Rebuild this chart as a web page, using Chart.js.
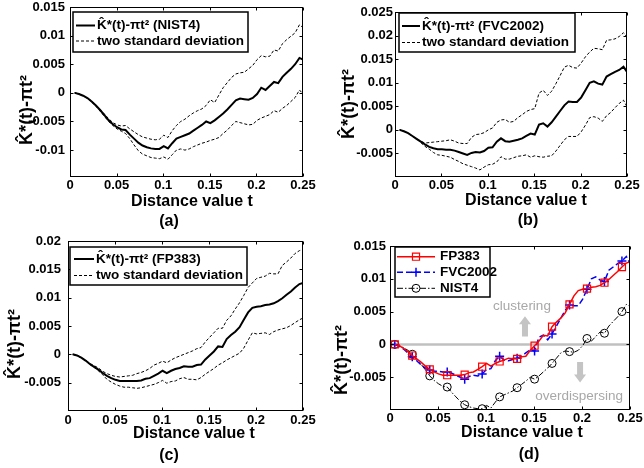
<!DOCTYPE html>
<html>
<head>
<meta charset="utf-8">
<script src="https://cdn.jsdelivr.net/npm/chart.js@4.4.0/dist/chart.umd.min.js"></script>
<style>
  body { margin: 0; background: #fff; }
  #wrap { position: relative; width: 644px; height: 468px; }
  canvas { position: absolute; }
</style>
</head>
<body>
<div id="wrap">
  <canvas id="pa" width="322" height="234" style="left:0;top:0"></canvas>
  <canvas id="pb" width="322" height="234" style="left:322px;top:0"></canvas>
  <canvas id="pc" width="322" height="234" style="left:0;top:234px"></canvas>
  <canvas id="pd" width="322" height="234" style="left:322px;top:234px"></canvas>
</div>
<script>
// distance values t (shared by every curve)
const T = [
  0.005, 0.0096, 0.0141, 0.0187, 0.0232, 0.0278, 0.0323, 0.0369, 0.0414, 0.046, 0.0505,
  0.0551, 0.0596, 0.0642, 0.0687, 0.0733, 0.0778, 0.0824, 0.0869, 0.0915, 0.096, 0.1006,
  0.1051, 0.1097, 0.1142, 0.1188, 0.1233, 0.1279, 0.1324, 0.137, 0.1415, 0.1461, 0.1506,
  0.1552, 0.1597, 0.1643, 0.1688, 0.1734, 0.1779, 0.1825, 0.187, 0.1916, 0.1961, 0.2007,
  0.2052, 0.2098, 0.2143, 0.2189, 0.2234, 0.228, 0.2325, 0.2371, 0.2416, 0.2462, 0.25
];

// NIST4
const nistMean = [
  0, -0.0002, -0.0005, -0.0009, -0.0015, -0.0022, -0.0030, -0.0039, -0.0048, -0.0055, -0.0060,
  -0.0064, -0.0065, -0.0073, -0.0080, -0.0087, -0.0092, -0.0095, -0.0097, -0.0098, -0.0098, -0.0093,
  -0.0097, -0.0088, -0.0080, -0.0077, -0.0074, -0.0071, -0.0066, -0.0061, -0.0056, -0.0050, -0.0053,
  -0.0048, -0.0042, -0.0036, -0.0029, -0.0021, -0.0013, -0.0010, -0.0011, -0.0012, -0.0009, -0.0002,
  0.0009, 0.0005, 0.0012, 0.0019, 0.0017, 0.0028, 0.0035, 0.0042, 0.0050, 0.0061, 0.0058
];
const nistUpper = [
  0, -0.0002, -0.0005, -0.0009, -0.0014, -0.0021, -0.0029, -0.0037, -0.0045, -0.0052, -0.0056,
  -0.0058, -0.0057, -0.0063, -0.0068, -0.0073, -0.0077, -0.0079, -0.0081, -0.0082, -0.0081, -0.0074,
  -0.0078, -0.0066, -0.0057, -0.0050, -0.0046, -0.0040, -0.0035, -0.0031, -0.0028, -0.0022, -0.0012,
  -0.0017, -0.0004, 0.0009, 0.0018, 0.0027, 0.0033, 0.0035, 0.0036, 0.0042, 0.0048, 0.0058,
  0.0065, 0.0063, 0.0064, 0.0075, 0.0073, 0.0086, 0.0093, 0.0099, 0.0105, 0.0119, 0.0114
];
const nistLower = [
  0, -0.0002, -0.0005, -0.0010, -0.0016, -0.0023, -0.0032, -0.0041, -0.0050, -0.0057, -0.0063,
  -0.0067, -0.0071, -0.0080, -0.0091, -0.0101, -0.0107, -0.0110, -0.0113, -0.0114, -0.0115, -0.0112,
  -0.0116, -0.0108, -0.0100, -0.0098, -0.0100, -0.0098, -0.0094, -0.0091, -0.0088, -0.0086, -0.0083,
  -0.0081, -0.0078, -0.0071, -0.0065, -0.0057, -0.0050, -0.0052, -0.0054, -0.0056, -0.0055, -0.0048,
  -0.0044, -0.0041, -0.0038, -0.0031, -0.0034, -0.0027, -0.0022, -0.0015, -0.0008, 0.0005, -0.0002
];

// FVC2002
const fvcMean = [
  0, -0.0003, -0.0007, -0.0013, -0.0019, -0.0025, -0.0031, -0.0036, -0.0039, -0.0041, -0.0041,
  -0.0042, -0.0042, -0.0044, -0.0047, -0.0050, -0.0053, -0.0049, -0.0047, -0.0048, -0.0045, -0.0038,
  -0.0037, -0.0025, -0.0018, -0.0024, -0.0025, -0.0023, -0.0021, -0.0018, -0.0013, -0.0008, -0.0010,
  0.0011, 0.0014, 0.0007, 0.0016, 0.0028, 0.0040, 0.0052, 0.0060, 0.0059, 0.0059, 0.0069,
  0.0084, 0.0100, 0.0103, 0.0098, 0.0096, 0.0113, 0.0118, 0.0123, 0.0127, 0.0134, 0.0123
];
const fvcUpper = [
  0, -0.0003, -0.0007, -0.0013, -0.0019, -0.0024, -0.0028, -0.0027, -0.0026, -0.0025, -0.0024,
  -0.0023, -0.0021, -0.0024, -0.0028, -0.0029, -0.0029, -0.0016, -0.0010, -0.0009, -0.0006, 0.0000,
  0.0004, 0.0016, 0.0021, 0.0022, 0.0016, 0.0018, 0.0026, 0.0032, 0.0039, 0.0043, 0.0045,
  0.0078, 0.0084, 0.0073, 0.0082, 0.0098, 0.0115, 0.0133, 0.0137, 0.0132, 0.0131, 0.0142,
  0.0155, 0.0165, 0.0173, 0.0172, 0.0170, 0.0190, 0.0191, 0.0193, 0.0198, 0.0206, 0.0197
];
const fvcLower = [
  0, -0.0003, -0.0007, -0.0013, -0.0019, -0.0027, -0.0035, -0.0041, -0.0048, -0.0053, -0.0054,
  -0.0056, -0.0058, -0.0063, -0.0067, -0.0072, -0.0075, -0.0078, -0.0081, -0.0085, -0.0079, -0.0074,
  -0.0073, -0.0068, -0.0057, -0.0062, -0.0062, -0.0059, -0.0056, -0.0055, -0.0053, -0.0058, -0.0055,
  -0.0057, -0.0058, -0.0056, -0.0055, -0.0045, -0.0033, -0.0021, -0.0014, -0.0014, -0.0014, -0.0004,
  0.0010, 0.0026, 0.0028, 0.0025, 0.0018, 0.0030, 0.0037, 0.0047, 0.0056, 0.0063, 0.0049
];

// FP383
const fpMean = [
  0, -0.0002, -0.0006, -0.0011, -0.0017, -0.0022, -0.0027, -0.0033, -0.0038, -0.0042, -0.0045,
  -0.0047, -0.0047, -0.0047, -0.0047, -0.0047, -0.0046, -0.0043, -0.0042, -0.0038, -0.0034, -0.0029,
  -0.0033, -0.0029, -0.0026, -0.0024, -0.0021, -0.0022, -0.0022, -0.0019, -0.0018, -0.0009, -0.0002,
  0.0005, 0.0014, 0.0013, 0.0027, 0.0034, 0.0040, 0.0048, 0.0061, 0.0074, 0.0082, 0.0084,
  0.0085, 0.0087, 0.0088, 0.0090, 0.0094, 0.0099, 0.0105, 0.0111, 0.0118, 0.0124, 0.0126
];
const fpUpper = [
  0, -0.0002, -0.0006, -0.0010, -0.0016, -0.0020, -0.0024, -0.0030, -0.0034, -0.0037, -0.0039,
  -0.0040, -0.0039, -0.0038, -0.0037, -0.0034, -0.0032, -0.0029, -0.0025, -0.0019, -0.0016, -0.0012,
  -0.0015, -0.0010, -0.0006, -0.0003, 0.0000, 0.0003, 0.0006, 0.0010, 0.0012, 0.0022, 0.0030,
  0.0038, 0.0046, 0.0046, 0.0060, 0.0068, 0.0080, 0.0091, 0.0104, 0.0118, 0.0126, 0.0134,
  0.0136, 0.0138, 0.0143, 0.0142, 0.0142, 0.0157, 0.0163, 0.0170, 0.0178, 0.0183, 0.0185
];
const fpLower = [
  0, -0.0002, -0.0006, -0.0011, -0.0018, -0.0023, -0.0029, -0.0036, -0.0044, -0.0049, -0.0053,
  -0.0056, -0.0058, -0.0058, -0.0059, -0.0060, -0.0059, -0.0057, -0.0055, -0.0053, -0.0050, -0.0046,
  -0.0051, -0.0048, -0.0047, -0.0043, -0.0041, -0.0044, -0.0044, -0.0045, -0.0041, -0.0035, -0.0030,
  -0.0025, -0.0019, -0.0015, -0.0010, -0.0006, -0.0002, 0.0002, 0.0011, 0.0025, 0.0038, 0.0036,
  0.0037, 0.0038, 0.0035, 0.0040, 0.0043, 0.0045, 0.0047, 0.0051, 0.0056, 0.0061, 0.0064
];

// axes
const xTicks = [0, 0.05, 0.1, 0.15, 0.2, 0.25];
const yTicksA = [-0.01, -0.005, 0, 0.005, 0.01, 0.015];
const yTicksB = [-0.005, 0, 0.005, 0.01, 0.015, 0.02, 0.025];
const yTicksC = [-0.005, 0, 0.005, 0.01, 0.015, 0.02];
const yTicksD = [-0.005, 0, 0.005, 0.01, 0.015];
const zeroT = [0, 0.25];
const zeroV = [0, 0];

const yLabel = 'K\u0302*(t)-\u03c0t\u00b2';
const FONT = '"Liberation Sans", Arial, Helvetica, sans-serif';
Chart.defaults.font.family = FONT;
Chart.defaults.color = '#000';

const pts = (xs, ys) => xs.map((x, i) => ({ x: x, y: ys[i] }));
const fmt = v => String(Math.round(v * 1000) / 1000);

function framePlugin(spec) {
  return {
    id: 'frame',
    afterDraw(chart) {
      const ctx = chart.ctx, a = chart.chartArea;
      const xs = chart.scales.x, ys = chart.scales.y;
      ctx.save();
      ctx.setLineDash([]);
      ctx.strokeStyle = '#000';
      ctx.lineWidth = 1;
      const l = Math.round(a.left) + 0.5, t = Math.round(a.top) + 0.5;
      const r = Math.round(a.right) - 0.5, b = Math.round(a.bottom) - 0.5;
      ctx.strokeRect(l, t, r - l, b - t);
      ctx.beginPath();
      xs.ticks.forEach(tk => {
        const x = Math.round(xs.getPixelForValue(tk.value)) + 0.5;
        ctx.moveTo(x, b); ctx.lineTo(x, b - 3);
        ctx.moveTo(x, t); ctx.lineTo(x, t + 3);
      });
      ys.ticks.forEach(tk => {
        const y = Math.round(ys.getPixelForValue(tk.value)) + 0.5;
        ctx.moveTo(l, y); ctx.lineTo(l + 3, y);
        ctx.moveTo(r, y); ctx.lineTo(r - 3, y);
      });
      ctx.stroke();

      // notes (arrows + gray words)
      (spec.notes || []).forEach(n => {
        ctx.fillStyle = n.color;
        if (n.text) {
          ctx.font = '13.5px ' + FONT;
          ctx.textAlign = 'center';
          ctx.textBaseline = 'middle';
          ctx.fillText(n.text, xs.getPixelForValue(n.t), ys.getPixelForValue(n.v));
        } else {
          const x = xs.getPixelForValue(n.t);
          const tip = ys.getPixelForValue(n.tip), tail = ys.getPixelForValue(n.tail);
          const d = tail > tip ? 1 : -1;
          ctx.beginPath();
          ctx.moveTo(x, tip);
          ctx.lineTo(x + 6, tip + d * 8);
          ctx.lineTo(x + 3, tip + d * 8);
          ctx.lineTo(x + 3, tail);
          ctx.lineTo(x - 3, tail);
          ctx.lineTo(x - 3, tip + d * 8);
          ctx.lineTo(x - 6, tip + d * 8);
          ctx.closePath();
          ctx.fill();
        }
      });

      // legend box
      const lg = spec.legend;
      ctx.fillStyle = '#fff';
      ctx.fillRect(lg.box[0], lg.box[1], lg.box[2] - lg.box[0], lg.box[3] - lg.box[1]);
      ctx.strokeStyle = '#000';
      ctx.lineWidth = 1.5;
      ctx.strokeRect(lg.box[0], lg.box[1], lg.box[2] - lg.box[0], lg.box[3] - lg.box[1]);
      lg.rows.forEach(row => {
        const ds = chart.data.datasets[row.ds];
        ctx.strokeStyle = ds.borderColor;
        ctx.lineWidth = ds.borderWidth;
        ctx.setLineDash(ds.borderDash || []);
        ctx.beginPath();
        ctx.moveTo(lg.sample[0], row.y);
        ctx.lineTo(lg.sample[1], row.y);
        ctx.stroke();
        ctx.setLineDash([]);
        if (row.marker) {
          ctx.strokeStyle = ds.pointBorderColor;
          ctx.fillStyle = 'rgba(0,0,0,0)';
          ctx.lineWidth = ds.pointBorderWidth;
          Chart.helpers.drawPoint(ctx, { pointStyle: ds.pointStyle, radius: row.marker, borderWidth: ds.pointBorderWidth, rotation: 0 },
            (lg.sample[0] + lg.sample[1]) / 2, row.y);
        }
        ctx.fillStyle = '#000';
        ctx.font = 'bold 13.5px ' + FONT;
        ctx.textAlign = 'left';
        ctx.textBaseline = 'middle';
        ctx.fillText(row.text, lg.textX, row.y);
      });

      // axis titles and caption
      ctx.fillStyle = '#000';
      ctx.textAlign = 'center';
      ctx.textBaseline = 'middle';
      ctx.font = 'bold 16px ' + FONT;
      ctx.fillText('Distance value t', spec.xTitle[0], spec.xTitle[1]);
      ctx.fillText(spec.caption[2], spec.caption[0], spec.caption[1]);
      ctx.save();
      ctx.translate(spec.yTitle[0], spec.yTitle[1]);
      ctx.rotate(-Math.PI / 2);
      ctx.font = 'bold 18px ' + FONT;
      ctx.fillText(yLabel, 0, 0);
      ctx.restore();
      ctx.restore();
    }
  };
}

function panel(id, spec) {
  const [L, Tp, R, B] = spec.area;
  return new Chart(document.getElementById(id), {
    type: 'line',
    data: { datasets: spec.datasets },
    options: {
      responsive: false,
      animation: false,
      events: [],
      layout: { padding: { left: 0, top: Tp, right: 322 - R, bottom: 0 } },
      plugins: { legend: { display: false }, tooltip: { enabled: false } },
      scales: {
        x: {
          type: 'linear', min: 0, max: 0.25,
          grid: { display: false, drawTicks: false },
          border: { display: false },
          ticks: { font: { size: 13, weight: 'bold' }, padding: spec.xPad, maxRotation: 0, callback: v => fmt(v) },
          afterBuildTicks: s => { s.ticks = xTicks.map(v => ({ value: v })); },
          afterFit: s => { s.height = 234 - B; s.paddingLeft = 0; s.paddingRight = 0; }
        },
        y: {
          min: spec.yMin, max: spec.yMax,
          grid: { display: false, drawTicks: false },
          border: { display: false },
          ticks: { font: { size: 13, weight: 'bold' }, padding: spec.yPad, callback: v => fmt(v) },
          afterBuildTicks: s => { s.ticks = spec.yTicks.map(v => ({ value: v })); },
          afterFit: s => { s.width = L; s.paddingTop = 0; s.paddingBottom = 0; }
        }
      }
    },
    plugins: [framePlugin(spec)]
  });
}

function bandSets(mean, upper, lower) {
  const band = { borderColor: '#000', borderWidth: 1, borderDash: [3, 2], pointRadius: 0, tension: 0 };
  return [
    { label: 'mean', data: pts(T, mean), borderColor: '#000', borderWidth: 2, pointRadius: 0, tension: 0 },
    Object.assign({ label: 'upper', data: pts(T, upper) }, band),
    Object.assign({ label: 'lower', data: pts(T, lower) }, band)
  ];
}

panel('pa', {
  area: [70, 7, 303, 177], yMin: -0.0147, yMax: 0.015, yTicks: yTicksA, xPad: 1, yPad: 5,
  datasets: bandSets(nistMean, nistUpper, nistLower),
  legend: { box: [73, 12, 248, 52], sample: [76, 95], textX: 97,
    rows: [{ y: 25.5, ds: 0, text: yLabel + ' (NIST4)' }, { y: 41, ds: 1, text: 'two standard deviation' }] },
  xTitle: [192, 202], caption: [169, 222, '(a)'], yTitle: [27, 110]
});

panel('pb', {
  area: [73, 12, 305, 177], yMin: -0.01, yMax: 0.025, yTicks: yTicksB, xPad: 1, yPad: 2,
  datasets: bandSets(fvcMean, fvcUpper, fvcLower),
  legend: { box: [77, 13, 253, 52], sample: [80, 98], textX: 100,
    rows: [{ y: 26, ds: 0, text: yLabel + ' (FVC2002)' }, { y: 42.5, ds: 1, text: 'two standard deviation' }] },
  xTitle: [204, 201], caption: [206, 221, '(b)'], yTitle: [27, 104]
});

panel('pc', {
  area: [68, 7, 303, 177], yMin: -0.01, yMax: 0.02, yTicks: yTicksC, xPad: 2, yPad: 7,
  datasets: bandSets(fpMean, fpUpper, fpLower),
  legend: { box: [70, 13, 247, 51], sample: [74, 94], textX: 96,
    rows: [{ y: 25, ds: 0, text: yLabel + ' (FP383)' }, { y: 41.5, ds: 1, text: 'two standard deviation' }] },
  xTitle: [194, 200], caption: [169, 222, '(c)'], yTitle: [15, 110]
});

const every4 = r => c => (c.dataIndex % 4 === 0 ? r : 0);
panel('pd', {
  area: [68, 12, 308, 176], yMin: -0.01, yMax: 0.015, yTicks: yTicksD, xPad: 1, yPad: 4,
  datasets: [
    { label: 'FP383', data: pts(T, fpMean), borderColor: '#ff0000', borderWidth: 1.5, tension: 0,
      pointStyle: 'rect', pointRadius: every4(5), pointBorderColor: '#ff0000', pointBackgroundColor: 'rgba(0,0,0,0)', pointBorderWidth: 1.2 },
    { label: 'FVC2002', data: pts(T, fvcMean), borderColor: '#0000ff', borderWidth: 1.5, borderDash: [6, 3], tension: 0,
      pointStyle: 'cross', pointRadius: every4(4.5), pointBorderColor: '#0000ff', pointBackgroundColor: 'rgba(0,0,0,0)', pointBorderWidth: 1.5 },
    { label: 'NIST4', data: pts(T, nistMean), borderColor: '#000', borderWidth: 1, borderDash: [6, 2, 1.5, 2], tension: 0,
      pointStyle: 'circle', pointRadius: every4(4), pointBorderColor: '#000', pointBackgroundColor: 'rgba(0,0,0,0)', pointBorderWidth: 1 },
    { label: 'zero', data: pts(zeroT, zeroV), borderColor: '#c0c0c0', borderWidth: 2.5, pointRadius: 0 }
  ],
  legend: { box: [73, 13, 168, 63], sample: [75, 113], textX: 118,
    rows: [{ y: 22.7, ds: 0, text: 'FP383', marker: 5 }, { y: 38.3, ds: 1, text: 'FVC2002', marker: 4.5 }, { y: 54.3, ds: 2, text: 'NIST4', marker: 4 }] },
  notes: [
    { t: 0.1375, v: 0.0058, text: 'clustering', color: '#a8a8a8' },
    { t: 0.1406, tip: 0.0043, tail: 0.0012, color: '#c4c4c4' },
    { t: 0.198, tip: -0.0058, tail: -0.0027, color: '#c4c4c4' },
    { t: 0.197, v: -0.0079, text: 'overdispersing', color: '#a8a8a8' }
  ],
  xTitle: [200, 199], caption: [207, 221, '(d)'], yTitle: [20, 126]
});
</script>
</body>
</html>
